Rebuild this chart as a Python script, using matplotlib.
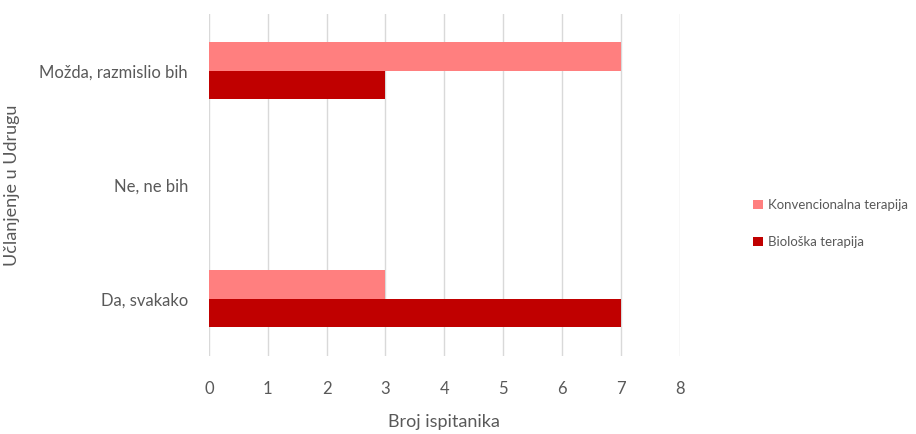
import matplotlib.pyplot as plt
import numpy as np

# data (top to bottom in the chart)
categories = ["Da, svakako", "Ne, ne bih", "Možda, razmislio bih"]
konvencionalna = [3, 0, 7]
bioloska = [7, 0, 3]
series_names = ["Konvencionalna terapija", "Biološka terapija"]

plt.rcParams['font.family'] = ['Lato', 'DejaVu Sans']
text_col = '#595959'

fig = plt.figure(figsize=(9.16, 4.34), dpi=100)
ax = fig.add_axes([0.228, 0.18, 0.514, 0.788])

y = np.arange(len(categories))
h = 0.25
ax.barh(y + h / 2, konvencionalna, height=h, color='#FF7F7F', label=series_names[0], zorder=3)
ax.barh(y - h / 2, bioloska, height=h, color='#C00000', label=series_names[1], zorder=3)

ax.set_xlim(0, 8)
ax.set_ylim(-0.5, 2.5)
ax.set_xticks(range(0, 9))
ax.set_yticks(y)
ax.set_yticklabels(categories)
ax.grid(axis='x', color='#D9D9D9', linewidth=1, zorder=0)
for s in ax.spines.values():
    s.set_visible(False)
ax.tick_params(axis='both', length=0, labelsize=12, colors=text_col)
ax.tick_params(axis='x', pad=18)
ax.tick_params(axis='y', pad=15)

ax.set_xlabel("Broj ispitanika", fontsize=13, color=text_col, labelpad=12)
ax.set_ylabel("Učlanjenje u Udrugu", fontsize=13, color=text_col, labelpad=14)

leg = fig.legend(loc='center left', bbox_to_anchor=(0.812, 0.485), frameon=False,
                 fontsize=9.5, handlelength=0.75, handleheight=0.75, labelspacing=1.9,
                 handletextpad=0.35, borderaxespad=0.3)
for t in leg.get_texts():
    t.set_color(text_col)

fig.savefig("out.png", dpi=100)
